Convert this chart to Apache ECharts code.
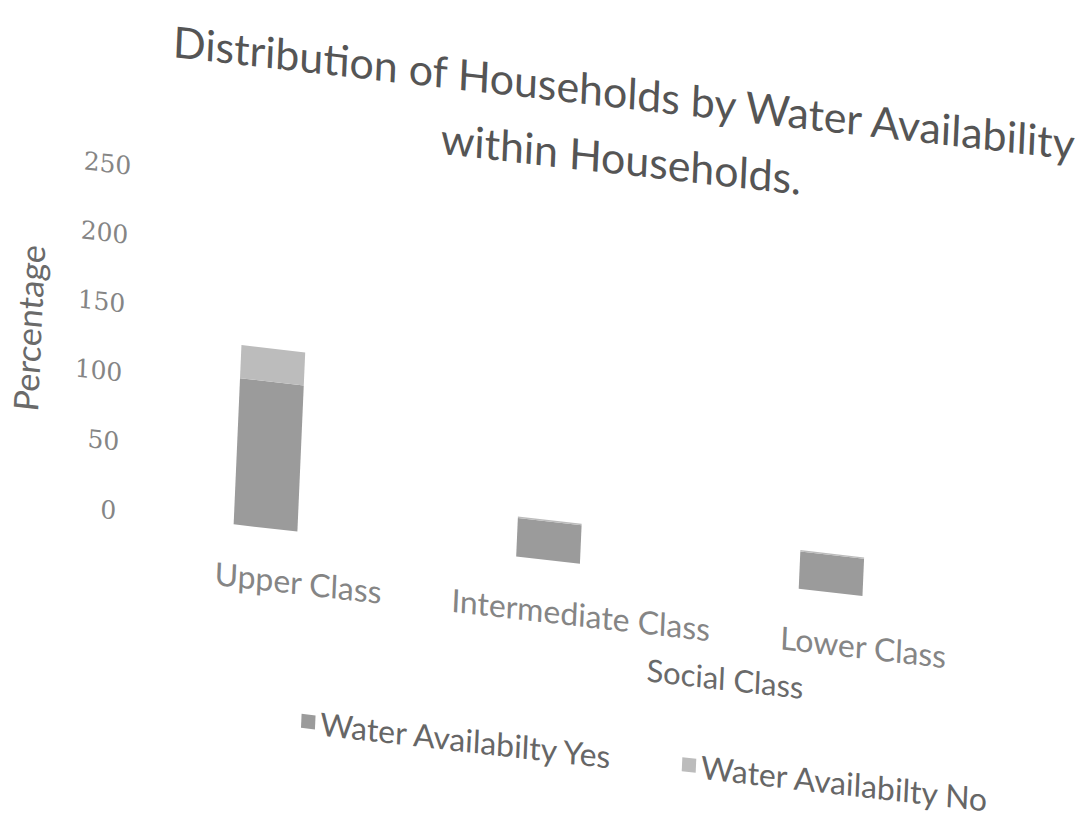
<!DOCTYPE html>
<html>
<head>
<meta charset="utf-8">
<script src="https://cdn.jsdelivr.net/npm/echarts@6/dist/echarts.min.js"></script>
<style>
  html, body { margin: 0; padding: 0; background: #ffffff; overflow: hidden; }
  .box {
    width: 1086px;
    height: 824px;
    transform-origin: 543px 412px;
    transform: rotate(2.5deg) skewY(4deg); /* photo of a tilted page */
  }
</style>
</head>
<body>
<div id="chart" class="box"></div>
<script>
// data
const categories = ["Upper Class", "Intermediate Class", "Lower Class"];
const waterYes = [106, 28, 27];
const waterNo = [24, 1, 1];
const yTicks = { min: 0, max: 250, interval: 50 };

const chart = echarts.init(document.getElementById("chart"), null, { renderer: "svg" });
const option = {
  backgroundColor: "#ffffff",
  title: {
    text: "Distribution of Households by Water Availability\nwithin Households.",
    left: 605,
    top: 46,
    textAlign: "center",
    textStyle: {
      fontFamily: "Lato",
      fontSize: 43,
      fontWeight: "normal",
      color: "#555555",
      lineHeight: 66,
    },
  },
  legend: {
    left: 310,
    top: 726,
    itemWidth: 14,
    itemHeight: 14,
    itemGap: 68,
    icon: "rect",
    textStyle: { fontFamily: "Lato", fontSize: 32, color: "#666666" },
    data: ["Water Availabilty Yes", "Water Availabilty No"],
  },
  grid: { left: 125, right: 106, top: 214, bottom: 265 },
  xAxis: {
    type: "category",
    data: categories,
    axisLine: { show: false },
    axisTick: { show: false },
    axisLabel: {
      interval: 0,
      hideOverlap: false,
      margin: 34,
      fontFamily: "Lato",
      fontSize: 32,
      color: "#858585",
      padding: [0, 0, 0, 70], // labels sit a little right of the bars
    },
    name: "Social Class",
    nameLocation: "middle",
    nameGap: 82,
    nameTextStyle: {
      fontFamily: "Lato",
      fontSize: 31,
      color: "#6a6a6a",
      padding: [0, 0, 0, 364],
    },
  },
  yAxis: {
    type: "value",
    min: yTicks.min,
    max: yTicks.max,
    interval: yTicks.interval,
    splitLine: { show: false },
    axisLine: { show: false },
    axisTick: { show: false },
    axisLabel: {
      margin: 8,
      fontFamily: "DejaVu Serif",
      fontSize: 25,
      color: "#858585",
    },
    name: "Percentage",
    nameLocation: "middle",
    nameGap: 87,
    nameTextStyle: { fontFamily: "Lato", fontSize: 34, color: "#6a6a6a" },
  },
  series: [
    {
      name: "Water Availabilty Yes",
      type: "bar",
      stack: "water",
      barWidth: 64,
      itemStyle: { color: "#9b9b9b" },
      data: waterYes,
    },
    {
      name: "Water Availabilty No",
      type: "bar",
      stack: "water",
      barWidth: 64,
      itemStyle: { color: "#bcbcbc" },
      data: waterNo,
    },
  ],
};
chart.setOption(option);
</script>
</body>
</html>
